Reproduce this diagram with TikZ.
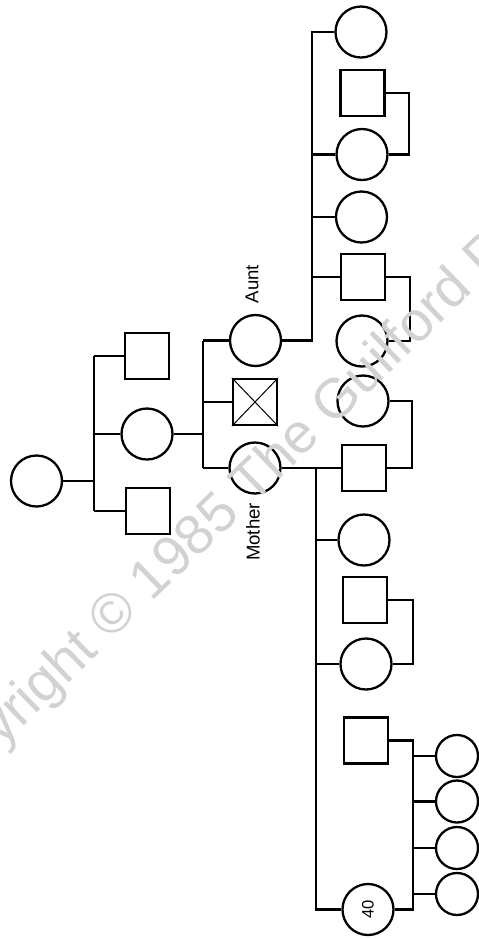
\documentclass[tikz,border=0pt]{standalone}
\usepackage{fontspec}
\setmainfont{Liberation Sans}
\begin{document}
\begin{tikzpicture}[x=0.5pt,y=-0.5pt,
  fem/.style={circle, draw, line width=1.15pt, minimum size=25.5pt, inner sep=0pt},
  male/.style={rectangle, draw, line width=1.15pt, minimum width=22pt, minimum height=23pt, inner sep=0pt},
  kid/.style={circle, draw, line width=1.15pt, minimum size=21pt, inner sep=0pt},
  link/.style={line width=1.15pt},
  lbl/.style={font=\fontsize{9.3pt}{11pt}\selectfont, rotate=90, inner sep=0pt},
  mark40/.style={font=\fontsize{8.3pt}{10pt}\selectfont, rotate=90, inner sep=0pt}]
\useasboundingbox (0,0) rectangle (478,939);

% sibship bar positions
\coordinate (g1) at (94,0);
\coordinate (g2) at (203,0);
\coordinate (ab) at (312,0);
\coordinate (mb) at (316,0);

% first and second generations
\node[fem]  (gm) at (36.5,481) {};
\node[male] (u1) at (147,356) {};
\node[fem]  (mm) at (147,434) {};
\node[male] (u2) at (148,511) {};

\draw[link] (gm.east) -- (gm.east -| g1);
\draw[link] (u1.west -| g1) -- (u2.west -| g1);
\draw[link] (u1.west -| g1) -- (u1.west);
\draw[link] (mm.west -| g1) -- (mm.west);
\draw[link] (u2.west -| g1) -- (u2.west);

% third generation
\node[fem]  (aunt)   at (255.5,340.5) {};
\node[male] (dead)   at (255,402) {};
\node[fem]  (mother) at (255,468) {};
\draw[line width=0.5pt] (dead.north west) -- (dead.south east)
                        (dead.north east) -- (dead.south west);

\draw[link] (mm.east) -- (mm.east -| g2);
\draw[link] (aunt.west -| g2) -- (mother.west -| g2);
\draw[link] (aunt.west -| g2) -- (aunt.west);
\draw[link] (dead.west -| g2) -- (dead.west);
\draw[link] (mother.west -| g2) -- (mother.west);

\node[lbl] (auntlbl)   at (252,284) {Aunt};
\node[lbl] (motherlbl) at (253,532) {Mother};

% aunt's children and their spouses
\node[fem]  (a1)  at (361,32) {};
\node[male] (a2h) at (362.5,93) {};
\node[fem]  (a2)  at (362,154.5) {};
\node[fem]  (a3)  at (361.5,217) {};
\node[male] (a4)  at (363,277) {};
\node[fem]  (a4w) at (362,341) {};

\draw[link] (aunt.east) -| (a1.west -| ab) -- (a1.west);
\draw[link] (a2.west -| ab) -- (a2.west);
\draw[link] (a3.west -| ab) -- (a3.west);
\draw[link] (a4.west -| ab) -- (a4.west);
\draw[link] (a2h.east) -- ++(23,0) |- (a2.east);
\draw[link] (a4.east) -- ++(24,0) |- (a4w.east);

% mother's children and their spouses
\node[male] (m1)  at (364,468) {};
\node[fem]  (m1w) at (363,401) {};
\node[fem]  (m2)  at (364,540) {};
\node[male] (m3h) at (365,600) {};
\node[fem]  (m3)  at (366,664) {};
\node[male] (m4h) at (366,740.5) {};
\node[fem]  (m4)  at (368,909.5) {};
\node[mark40] (age) at (m4) {40};

\draw[link] (mother.east) -- (m1.west);
\draw[link] (mother.east -| mb) -- (m4.west -| mb) -- (m4.west);
\draw[link] (m2.west -| mb) -- (m2.west);
\draw[link] (m3.west -| mb) -- (m3.west);
\draw[link] (m1.east) -- ++(25,0) |- (m1w.east);
\draw[link] (m3h.east) -- ++(25,0) |- (m3.east);
\draw[link] (m4h.east) -- ++(24,0) coordinate (gb) |- (m4.east);

% grandchildren
\node[kid] (k1) at (457,756) {};
\node[kid] (k2) at (457,801.5) {};
\node[kid] (k3) at (457,848) {};
\node[kid] (k4) at (457,894) {};
\foreach \k in {k1,k2,k3,k4}
  \draw[link] (\k.west -| gb) -- (\k.west);

% copyright overprint
\node[rotate=44, anchor=base, text=gray!35, inner sep=0pt,
      font=\fontsize{28pt}{32pt}\selectfont] (wm) at (258,500)
  {Copyright © 1985 The Guilford Press};
\end{tikzpicture}
\end{document}
